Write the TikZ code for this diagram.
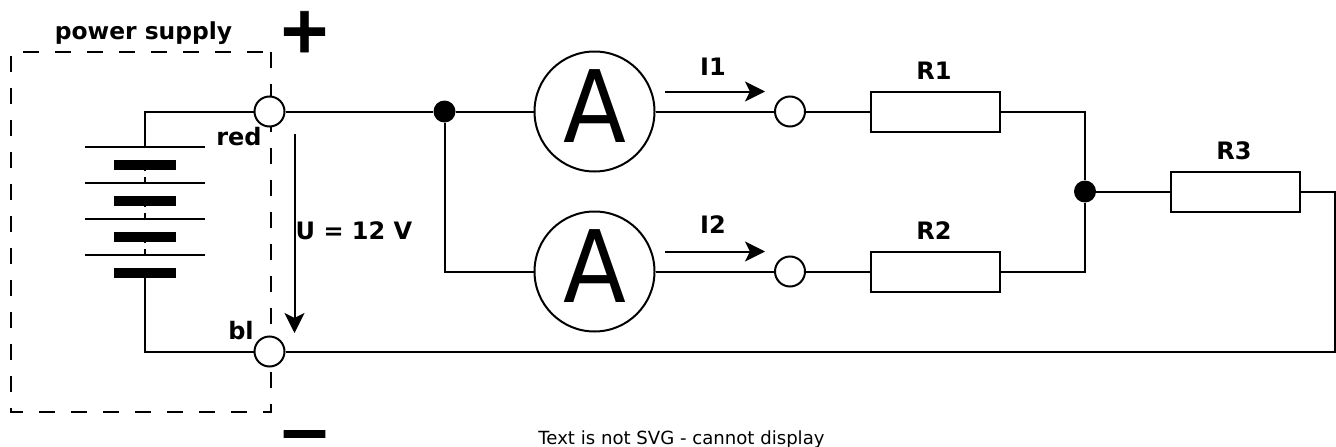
\documentclass[tikz,border=0pt]{standalone}
\usepackage{fontspec}
\setmainfont{DejaVu Sans}
\newfontfamily\signfont[FakeBold=1.2]{DejaVu Sans Bold}
\newfontfamily\minusfont[FakeBold=20]{DejaVu Sans Bold}
\usetikzlibrary{arrows.meta}
\newcommand{\meterA}{\raisebox{-30.5pt}[0pt][0pt]{\scalebox{0.92}[1]{A}}}
\tikzset{
  wire/.style={line width=2pt,line join=miter},
  term/.style={circle,draw,line width=2pt,fill=white,minimum size=30pt,inner sep=0pt},
  junc/.style={circle,fill=black,minimum size=22pt,inner sep=0pt},
  meter/.style={circle,draw,line width=2pt,fill=white,minimum size=120pt,inner sep=0pt,font=\fontsize{100}{100}\selectfont},
  res/.style={rectangle,draw,line width=2pt,fill=white,minimum width=129pt,minimum height=40pt,inner sep=0pt},
  lab/.style={inner sep=0pt,anchor=base,font=\fontsize{24}{24}\selectfont\bfseries},
  plate/.style={line width=2pt},
  bar/.style={line width=9.3pt},
  arr/.style={line width=2pt,-{Stealth[length=20pt 0 0,width=20pt 0 0,inset=5pt 0 0]}},
  sign/.style={inner sep=0pt,anchor=base,font=\fontsize{65}{65}\selectfont\signfont}
}
\begin{document}
\begin{tikzpicture}[x=1pt,y=-1pt]
\useasboundingbox (0,0) rectangle (1336,447);
% power supply box
\coordinate (b1) at (270.5,51.5);
\coordinate (b2) at (270.5,411.5);
\coordinate (b3) at (10.5,411.5);
\coordinate (b4) at (10.5,51.5);
\draw[line width=2pt,dash pattern=on 16pt off 16pt] (b1) -- (b2) -- (b3) -- (b4) -- cycle;
% battery
\coordinate (c0) at (144.5,111.5);
\coordinate (c1) at (144.5,147);
\coordinate (c2) at (144.5,273);
\coordinate (c3) at (144.5,351.5);
\coordinate (c4) at (144.5,161);
\coordinate (c5) at (144.5,255);
\draw[line width=2pt,dash pattern=on 10pt off 6pt on 6pt off 14pt] (c4) -- (c5);
\foreach \y in {147,183,219,255} \draw[plate] (84.5,\y) -- (204.5,\y);
\foreach \y in {165,201,237,273} \draw[bar] (113.5,\y) -- (175.5,\y);
% nodes
\node[term] (tp) at (269.5,111.5) {};
\node[term] (tn) at (269.5,351.5) {};
\node[junc] (j1) at (444.5,111.5) {};
\node[junc] (j2) at (1085,191.5) {};
\node[meter] (a1) at (594.5,111.5) {\meterA};
\node[meter] (a2) at (594.5,271.5) {\meterA};
\node[term] (s1) at (790,111.5) {};
\node[term] (s2) at (790,271.5) {};
\node[res] (r1) at (935,111.5) {};
\node[res] (r2) at (935,271.5) {};
\node[res] (r3) at (1235.5,191.5) {};
\coordinate (k1) at (444.5,271.5);
\coordinate (k2) at (1085,111.5);
\coordinate (k3) at (1085,271.5);
\coordinate (k4) at (1335,191.5);
\coordinate (k5) at (1335,351.5);
% wires
\draw[wire] (tp) -- (c0) -- (c1);
\draw[wire] (c2) -- (c3) -- (tn);
\draw[wire] (tp) -- (j1);
\draw[wire] (j1) -- (a1);
\draw[wire] (j1) -- (k1) -- (a2);
\draw[wire] (a1) -- (s1);
\draw[wire] (a2) -- (s2);
\draw[wire] (s1) -- (r1);
\draw[wire] (s2) -- (r2);
\draw[wire] (r1) -- (k2) -- (j2);
\draw[wire] (r2) -- (k3) -- (j2);
\draw[wire] (j2) -- (r3);
\draw[wire] (r3) -- (k4) -- (k5) -- (tn);
% arrows
\coordinate (ua) at (294.5,134);
\coordinate (ub) at (294.5,333);
\draw[arr] (ua) -- (ub);
\coordinate (i1a) at (665,91.5);
\coordinate (i1b) at (765,91.5);
\draw[arr] (i1a) -- (i1b);
\coordinate (i2a) at (665,251.5);
\coordinate (i2b) at (765,251.5);
\draw[arr] (i2a) -- (i2b);
% labels
\node[lab,font=\fontsize{23.4}{24}\selectfont\bfseries] (lps) at (143.5,39) {power supply};
\node[lab] (lred) at (239,145) {red};
\node[lab] (lbl) at (241,339) {bl};
\node[lab] (lu) at (354,239) {U = 12 V};
\node[lab] (li1) at (713,75) {I1};
\node[lab] (li2) at (713,233) {I2};
\node[lab] (lr1) at (934,79) {R1};
\node[lab] (lr2) at (934,239) {R2};
\node[lab] (lr3) at (1234,159) {R3};
\node[sign] (plus) at (304.5,52) {+};
\node[inner sep=0pt,anchor=base,font=\fontsize{24}{24}\selectfont\minusfont] (minus) at (304.5,441.5) {\scalebox{2.1}[1]{−}};
\node[inner sep=0pt,anchor=base,font=\fontsize{18.1}{18}\selectfont] (warn) at (681.5,444) {Text is not SVG - cannot display};
\end{tikzpicture}
\end{document}
